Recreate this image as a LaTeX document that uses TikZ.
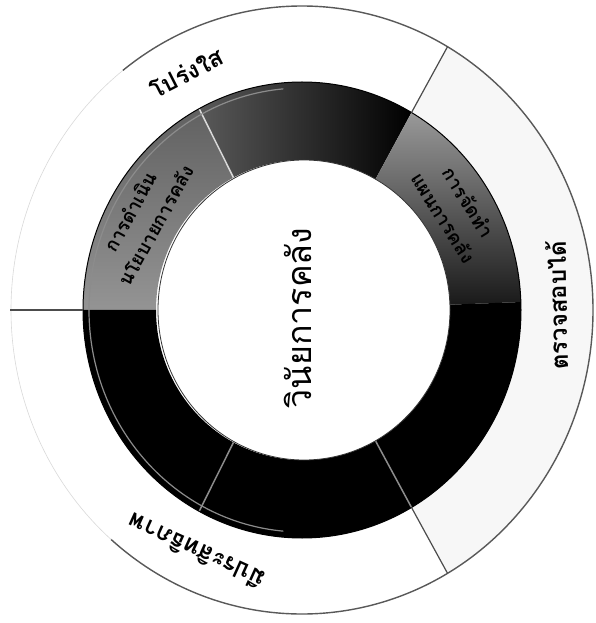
\documentclass[tikz,border=0pt]{standalone}
\usepackage{fontspec}
\newfontfamily\thaifont[Script=Thai]{Loma}
\usepackage{tikz}

\begin{document}
\begin{tikzpicture}[
  x=1pt, y=1pt,
  hublabel/.style  = {font=\thaifont\fontsize{34}{40}\selectfont, inner sep=0pt},
  ringlabel/.style = {font=\thaifont\bfseries\fontsize{24}{28}\selectfont, inner sep=0pt},
  seglabel/.style  = {font=\thaifont\bfseries\fontsize{19}{29}\selectfont,
                      align=center, inner sep=0pt},
  rimline/.style   = {draw=black!65, line width=1.4pt},
  divline/.style   = {draw=black!70, line width=1.2pt},
  segA/.style = {top color=black!62, bottom color=black!42},
  segB/.style = {left color=black!65, right color=black},
  segC/.style = {top color=black!40, bottom color=black!90},
  segK/.style = {fill=black},
]
\useasboundingbox (-302,-313) rectangle (293,310);

%% ---- Outer ring ----
\fill[white] (0,0) ellipse [x radius=291, y radius=304];
\fill[black!3] (-60:219 and 228) arc[start angle=-60, end angle=60, x radius=219, y radius=228]
  -- (60:291 and 304) arc[start angle=60, end angle=-60, x radius=291, y radius=304] -- cycle;
\draw[rimline] (-131:291 and 304) arc[start angle=-131, end angle=128, x radius=291, y radius=304];
\draw[black!15, line width=0.6pt] (128:291 and 304) arc[start angle=128, end angle=229, x radius=291, y radius=304];

%% ---- Donut segments ----
\foreach \a/\b/\seg in {118/180/segA, 60/118/segB, 2/60/segC, -60/2/segK, -118/-60/segK, 180/242/segK}
  \path[\seg] (\a:146 and 150) arc[start angle=\a, end angle=\b, x radius=146, y radius=150]
    -- (\b:219 and 228) arc[start angle=\b, end angle=\a, x radius=219, y radius=228] -- cycle;

%% ---- Seams, rim and hole ----
\foreach \a/\c in {118/white!85!black, -60/black!45, -118/black!45}
  \draw[\c, line width=1.5pt] (\a:146 and 150) -- (\a:219 and 228);
\draw[black!45, line width=1.2pt] (95:213 and 222) arc[start angle=95, end angle=265, x radius=213, y radius=222];
\draw[black, line width=1pt] (0,0) ellipse [x radius=219, y radius=228];
\draw[black!80, line width=0.8pt, fill=white] (2,0) ellipse [x radius=146, y radius=150];

%% ---- Dividers of the outer ring ----
\draw[divline] (180:219 and 228) -- (-292,0);
\draw[divline] (60:219 and 228) -- (60:291 and 304);
\draw[divline] (-60:219 and 228) -- (-60:291 and 304);

%% ---- Labels ----
\node[hublabel, rotate=90] (hub) at (-4,-8) {วินัยการคลัง};
\node[ringlabel, rotate=27] (transp) at (117:255 and 266) {โปร่งใส};
\node[ringlabel, rotate=91] (audit) at (1:255 and 266) {ตรวจสอบได้};
\node[ringlabel, rotate=155.5] (effic) at (-114.5:255 and 266) {มีประสิทธิภาพ};
\node[seglabel, rotate=61] (policy) at (151:182 and 189) {การดำเนิน\\นโยบายการคลัง};
\node[seglabel, rotate=-58] (plan) at (32:182 and 189) {การจัดทำ\\แผนการคลัง};

\end{tikzpicture}
\end{document}
